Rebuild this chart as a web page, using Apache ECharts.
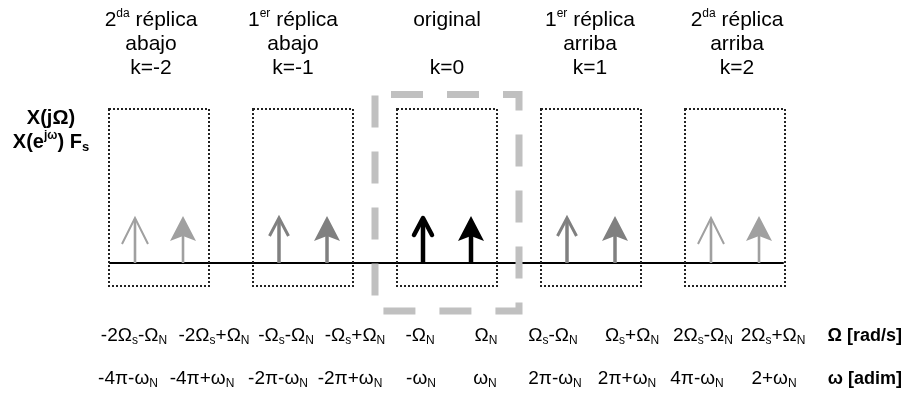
<!DOCTYPE html>
<html>
<head>
<meta charset="utf-8">
<script src="https://cdn.jsdelivr.net/npm/echarts@6/dist/echarts.min.js"></script>
<style>
html,body{margin:0;padding:0;background:#fff;}
#chart{width:908px;height:393px;}
</style>
</head>
<body>
<div id="chart"></div>
<script>
// ---------------- DATA ----------------
const replicaK = [-2, -1, 0, 1, 2];
const headerOrdinal = ['2', '1', '', '1', '2'];
const headerOrdinalSup = ['da', 'er', '', 'er', 'da'];
const headerName = ['réplica', 'réplica', 'original', 'réplica', 'réplica'];
const headerDirection = ['abajo', 'abajo', '', 'arriba', 'arriba'];
const headerK = ['k=-2', 'k=-1', 'k=0', 'k=1', 'k=2'];

// delta positions in units of Ωs (Ω_N ≈ Ωs/6)
const deltaX = [-2.1667, -1.8333, -1.1667, -0.8333, -0.1667, 0.1667, 0.8333, 1.1667, 1.8333, 2.1667];
const deltaAmp = [1, 1, 1, 1, 1, 1, 1, 1, 1, 1];
const deltaK = [-2, -2, -1, -1, 0, 0, 1, 1, 2, 2];
const deltaHead = ['open', 'filled', 'open', 'filled', 'open', 'filled', 'open', 'filled', 'open', 'filled'];

const analogLabels = ['-2Ω_{s}-Ω_{N}', '-2Ω_{s}+Ω_{N}', '-Ω_{s}-Ω_{N}', '-Ω_{s}+Ω_{N}', '-Ω_{N}', 'Ω_{N}', 'Ω_{s}-Ω_{N}', 'Ω_{s}+Ω_{N}', '2Ω_{s}-Ω_{N}', '2Ω_{s}+Ω_{N}'];
const digitalLabels = ['-4π-ω_{N}', '-4π+ω_{N}', '-2π-ω_{N}', '-2π+ω_{N}', '-ω_{N}', 'ω_{N}', '2π-ω_{N}', '2π+ω_{N}', '4π-ω_{N}', '2+ω_{N}'];
const analogAxisTitle = 'Ω [rad/s]';
const digitalAxisTitle = 'ω [adim]';
const yTitleLines = ['X(jΩ)', 'X(e^{jω}) F_{s}'];

// ---------------- LAYOUT / STYLE ----------------
const FONT = 'Liberation Sans, Arial, sans-serif';
const L = {
  xMin: -337 / 144, xMax: 336 / 144, yMin: -1, yMax: 4,
  boxHalf: 0.347, boxTop: 3.28, boxBottom: -0.49,
  winHalf: 0.5, winTop: 3.585, winBottom: -1.02,
  headerDx: [-8, -10, 0, -1, 2], headerMidY: 44,
  analogY: 336, digitalY: 379,
  analogDx: [-1, 31, 7, 28, -3, 15, -14, 17, -8, 14],
  digitalDx: [-7, 19, -1, 23, -2, 14, -12, 12, -14, 15]
};
const arrowStyle = {
  0: { color: '#000000', shaft: 4.5, open: { hw: 9, hl: 17, lw: 4.5, drop: 2, round: true } },
  1: { color: '#808080', shaft: 3.5, open: { hw: 9.5, hl: 18, lw: 3, drop: 2, round: false } },
  2: { color: '#a0a0a0', shaft: 2.6, open: { hw: 13, hl: 26, lw: 2, drop: 2, round: false } }
};
const filledHead = { hw: 13, hl: 25, notch: 5 };

function toRich(s) {
  return s.replace(/\^\{([^}]*)\}/g, '{sup|$1}').replace(/_\{([^}]*)\}/g, '{sub|$1}');
}

const chart = echarts.init(document.getElementById('chart'), null, { renderer: 'canvas' });

const option = {
  animation: false,
  backgroundColor: '#ffffff',
  grid: { left: 110, right: 125, top: 75, bottom: 83 },
  xAxis: {
    type: 'value', min: L.xMin, max: L.xMax,
    axisLine: { show: true, onZero: true, lineStyle: { color: '#000', width: 2 } },
    axisTick: { show: false }, axisLabel: { show: false }, splitLine: { show: false }
  },
  yAxis: {
    type: 'value', min: L.yMin, max: L.yMax, show: false,
    splitLine: { show: false }
  },
  graphic: [
    {
      type: 'text', x: 51, y: 130, z: 10,
      style: {
        text: yTitleLines.map(toRich).join('\n'),
        fontFamily: FONT, fontSize: 20, fontWeight: 'bold', fill: '#000',
        align: 'center', verticalAlign: 'middle', lineHeight: 24,
        rich: {
          sup: { fontFamily: FONT, fontSize: 12, fontWeight: 'bold', lineHeight: 12, verticalAlign: 'top' },
          sub: { fontFamily: FONT, fontSize: 13, fontWeight: 'bold', lineHeight: 12, verticalAlign: 'bottom' }
        }
      }
    },
    {
      type: 'text', x: 902, y: L.analogY, z: 10,
      style: { text: analogAxisTitle, fontFamily: FONT, fontSize: 18, fontWeight: 'bold', fill: '#000', align: 'right', verticalAlign: 'middle' }
    },
    {
      type: 'text', x: 902, y: L.digitalY, z: 10,
      style: { text: digitalAxisTitle, fontFamily: FONT, fontSize: 18, fontWeight: 'bold', fill: '#000', align: 'right', verticalAlign: 'middle' }
    }
  ],
  series: [
    {
      name: 'replica windows', type: 'custom', z: 3,
      data: replicaK.map(k => [k]),
      renderItem: function (params, api) {
        const k = api.value(0);
        const a = api.coord([k - L.boxHalf, L.boxTop]);
        const b = api.coord([k + L.boxHalf, L.boxBottom]);
        return {
          type: 'rect',
          shape: { x: Math.round(a[0]), y: Math.round(a[1]), width: Math.round(b[0] - a[0]), height: Math.round(b[1] - a[1]) },
          style: { fill: 'none', stroke: '#222', lineWidth: 2, lineDash: [2, 2] }
        };
      }
    },
    {
      name: 'original window', type: 'custom', z: 2,
      data: [[0]],
      renderItem: function (params, api) {
        const k = api.value(0);
        const a = api.coord([k - L.winHalf, L.winTop]);
        const b = api.coord([k + L.winHalf, L.winBottom]);
        return {
          type: 'rect',
          shape: { x: a[0], y: a[1], width: b[0] - a[0], height: b[1] - a[1] },
          style: { fill: 'none', stroke: '#c0c0c0', lineWidth: 7, lineDash: [32, 24], lineDashOffset: 40 }
        };
      }
    },
    {
      name: 'deltas', type: 'custom', z: 5,
      data: deltaX.map((x, i) => [x, deltaAmp[i], i]),
      renderItem: function (params, api) {
        const x = api.value(0), amp = api.value(1), i = api.value(2);
        const st = arrowStyle[Math.abs(deltaK[i])];
        const base = api.coord([x, 0]);
        const tip = api.coord([x, amp]);
        const cx = tip[0];
        const children = [];
        if (deltaHead[i] === 'filled') {
          const h = filledHead;
          children.push({ type: 'line', shape: { x1: cx, y1: base[1], x2: cx, y2: tip[1] + h.hl - h.notch }, style: { stroke: st.color, lineWidth: st.shaft } });
          children.push({ type: 'polygon', shape: { points: [[cx, tip[1]], [cx - h.hw, tip[1] + h.hl], [cx, tip[1] + h.hl - h.notch], [cx + h.hw, tip[1] + h.hl]] }, style: { fill: st.color } });
        } else {
          const o = st.open;
          const ay = tip[1] + o.drop;
          children.push({ type: 'line', shape: { x1: cx, y1: base[1], x2: cx, y2: ay + 1 }, style: { stroke: st.color, lineWidth: st.shaft } });
          children.push({ type: 'polyline', shape: { points: [[cx - o.hw, ay + o.hl], [cx, ay], [cx + o.hw, ay + o.hl]] },
            style: { stroke: st.color, fill: 'none', lineWidth: o.lw, lineJoin: o.round ? 'round' : 'miter', lineCap: o.round ? 'round' : 'butt' } });
        }
        return { type: 'group', children: children };
      }
    },
    {
      name: 'headers', type: 'custom', z: 6,
      data: replicaK.map((k, i) => [k, i]),
      renderItem: function (params, api) {
        const k = api.value(0), i = api.value(1);
        const p = api.coord([k, 0]);
        const line1 = headerOrdinal[i] ? headerOrdinal[i] + '{sup|' + headerOrdinalSup[i] + '} ' + headerName[i] : headerName[i];
        const text = line1 + '\n' + (headerDirection[i] || ' ') + '\n' + headerK[i];
        return {
          type: 'text', x: p[0] + L.headerDx[i], y: L.headerMidY,
          style: {
            text: text, fontFamily: FONT, fontSize: 21, fill: '#000',
            align: 'center', verticalAlign: 'middle', lineHeight: 24,
            rich: { sup: { fontFamily: FONT, fontSize: 12, lineHeight: 14, verticalAlign: 'top' } }
          }
        };
      }
    },
    {
      name: 'frequency labels', type: 'custom', z: 6,
      data: deltaX.map((x, i) => [x, i]),
      renderItem: function (params, api) {
        const x = api.value(0), i = api.value(1);
        const p = api.coord([x, 0]);
        const rich = { sub: { fontFamily: FONT, fontSize: 12, lineHeight: 12, verticalAlign: 'bottom' } };
        return {
          type: 'group',
          children: [
            { type: 'text', x: p[0] + L.analogDx[i], y: L.analogY,
              style: { text: toRich(analogLabels[i]), fontFamily: FONT, fontSize: 19, fill: '#000', align: 'center', verticalAlign: 'middle', lineHeight: 22, rich: rich } },
            { type: 'text', x: p[0] + L.digitalDx[i], y: L.digitalY,
              style: { text: toRich(digitalLabels[i]), fontFamily: FONT, fontSize: 19, fill: '#000', align: 'center', verticalAlign: 'middle', lineHeight: 22, rich: rich } }
          ]
        };
      }
    }
  ]
};
chart.setOption(option);
</script>
</body>
</html>
